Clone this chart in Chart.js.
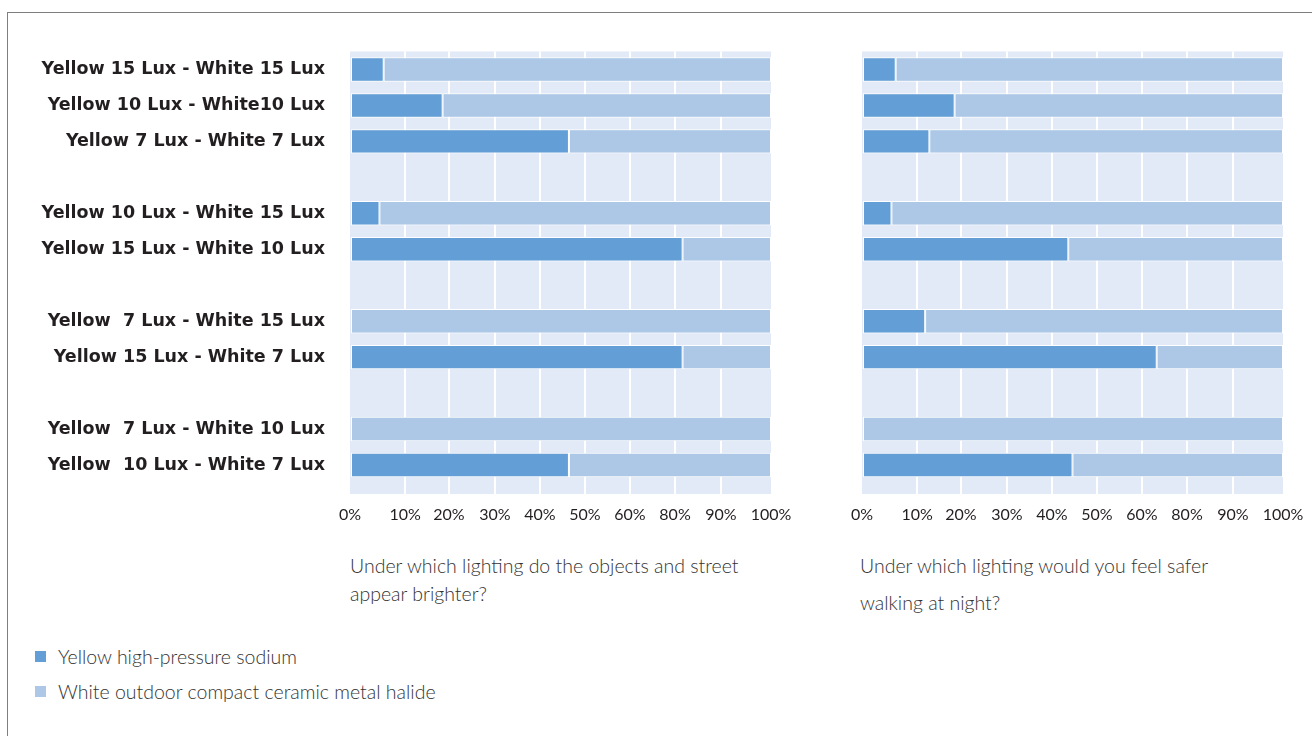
<!DOCTYPE html>
<html lang="en">
<head>
<meta charset="utf-8">
<title>Yellow vs white street lighting</title>
<script src="https://cdn.jsdelivr.net/npm/chart.js@4.4.1/dist/chart.umd.min.js"></script>
<style>
    html, body { margin: 0; padding: 0; background: #fff; }
    #page {
        position: relative;
        width: 1312px;
        height: 736px;
        overflow: hidden;
        font-family: Lato, 'Open Sans', sans-serif;
        color: #333333;
    }
    .frame {
        position: absolute;
        left: 7px;
        top: 12px;
        width: 1400px;
        height: 800px;
        border-left: 1px solid #7f7f7f;
        border-top: 1px solid #7f7f7f;
    }
    #brighterChart { position: absolute; left: 0; top: 0; }
    #saferChart { position: absolute; left: 812px; top: 0; }
    .question {
        position: absolute;
        font-size: 19.5px;
        font-weight: 300;
        white-space: nowrap;
    }
    #brighterQuestion { left: 350px; top: 552px; line-height: 28px; }
    #saferQuestion { left: 860px; top: 547px; line-height: 37px; }
    #legend {
        position: absolute;
        left: 35px;
        top: 639px;
        font-size: 19.5px;
        font-weight: 300;
    }
    .legend-item { display: flex; align-items: center; height: 35px; }
    .legend-box { width: 11px; height: 11px; margin-right: 12px; }
</style>
</head>
<body>
<div id="page">
    <div class="frame"></div>
    <canvas id="brighterChart" width="812" height="540"></canvas>
    <canvas id="saferChart" width="500" height="540"></canvas>
    <div class="question" id="brighterQuestion"></div>
    <div class="question" id="saferQuestion"></div>
    <div id="legend"></div>
</div>
<script>
// Survey pairs, empty labels are the spacer rows between groups
const categories = [
    'Yellow 15 Lux - White 15 Lux',
    'Yellow 10 Lux - White10 Lux',
    'Yellow 7 Lux - White 7 Lux',
    '',
    'Yellow 10 Lux - White 15 Lux',
    'Yellow 15 Lux - White 10 Lux',
    '',
    'Yellow  7 Lux - White 15 Lux',
    'Yellow 15 Lux - White 7 Lux',
    '',
    'Yellow  7 Lux - White 10 Lux',
    'Yellow  10 Lux - White 7 Lux'
];

const seriesNames = ['Yellow high-pressure sodium', 'White outdoor compact ceramic metal halide'];

// "appear brighter?" answers (%)
const brighterYellow = [8, 22, 52, null, 7, 79, null, 0, 79, null, 0, 52];
const brighterWhite = [92, 78, 48, null, 93, 21, null, 100, 21, null, 100, 48];

// "feel safer" answers (%)
const saferYellow = [8, 22, 16, null, 7, 49, null, 15, 70, null, 0, 50];
const saferWhite = [92, 78, 84, null, 93, 51, null, 85, 30, null, 100, 50];

// x axis ticks as printed in the original (no 70% label)
const gridTickValues = [0, 13.1, 23.5, 34.4, 45.1, 55.8, 66.5, 77.2, 88.1, 100];
const tickLabels = ['0%', '10%', '20%', '30%', '40%', '50%', '60%', '80%', '90%', '100%'];

const questions = [
    ['Under which lighting do the objects and street', 'appear brighter?'],
    ['Under which lighting would you feel safer', 'walking at night?']
];

const COLORS = {
    yellow: '#639fd6',
    white: '#adc8e6',
    plot: '#e1eaf6',
    text: '#231f20'
};

Chart.defaults.font.family = "Lato, 'Open Sans', sans-serif";

/**
 * Light blue plot background, drawn a bit below the chart area
 */
const plotBackground = {
    id: 'plotBackground',
    beforeDraw(chart, args, opts) {
        const { ctx, chartArea } = chart;
        ctx.save();
        ctx.fillStyle = opts.color;
        ctx.fillRect(chartArea.left, chartArea.top,
            chartArea.right - chartArea.left,
            chartArea.bottom - chartArea.top + opts.extend);
        ctx.restore();
    }
};

/**
 * Build one stacked horizontal bar chart
 */
function buildChart(canvasId, yellow, white, showLabels) {
    const lastTick = gridTickValues.length - 1;
    const canvas = document.getElementById(canvasId);
    return new Chart(canvas, {
        type: 'bar',
        data: {
            labels: categories,
            datasets: [
                { label: seriesNames[0], data: yellow, backgroundColor: COLORS.yellow },
                { label: seriesNames[1], data: white, backgroundColor: COLORS.white }
            ]
        },
        options: {
            indexAxis: 'y',
            responsive: false,
            animation: false,
            layout: {
                padding: { left: showLabels ? 0 : 50, right: showLabels ? 41 : 29, top: 51.5, bottom: 0 }
            },
            datasets: {
                bar: {
                    borderColor: '#ffffff',
                    borderWidth: 1,
                    borderSkipped: false,
                    categoryPercentage: 1,
                    barPercentage: 0.68
                }
            },
            plugins: {
                legend: { display: false },
                tooltip: { enabled: false },
                plotBackground: { color: COLORS.plot, extend: 11 }
            },
            scales: {
                x: {
                    stacked: true,
                    min: 0,
                    max: 100,
                    afterBuildTicks: (axis) => {
                        axis.ticks = gridTickValues.map(v => ({ value: v }));
                    },
                    afterFit: (axis) => {
                        // fixed axis height, the 100% label may hang over the padding
                        axis.height = 57;
                        axis.paddingLeft = 0;
                        axis.paddingRight = 0;
                    },
                    border: { display: false },
                    grid: {
                        color: (c) => (c.index === 0 || c.index === lastTick) ? 'rgba(0,0,0,0)' : '#ffffff',
                        lineWidth: 2,
                        drawTicks: true,
                        tickLength: 11
                    },
                    ticks: {
                        autoSkip: false,
                        maxRotation: 0,
                        padding: 11,
                        color: COLORS.text,
                        font: { size: 16 },
                        callback: (value, index) => tickLabels[index]
                    }
                },
                y: {
                    stacked: true,
                    display: showLabels,
                    afterFit: (axis) => { if (showLabels) axis.width = 350; },
                    border: { display: false },
                    grid: { display: false, drawTicks: false },
                    ticks: {
                        autoSkip: false,
                        padding: 25,
                        color: COLORS.text,
                        font: { family: "'DejaVu Sans', 'Open Sans', sans-serif", size: 17.5, weight: 'bold' }
                    }
                }
            }
        },
        plugins: [plotBackground]
    });
}

function renderQuestions() {
    document.getElementById('brighterQuestion').innerHTML = questions[0].join('<br>');
    document.getElementById('saferQuestion').innerHTML = questions[1].join('<br>');
}

function renderLegend() {
    const swatches = [COLORS.yellow, COLORS.white];
    document.getElementById('legend').innerHTML = seriesNames.map((name, i) =>
        `<div class="legend-item"><span class="legend-box" style="background:${swatches[i]}"></span>${name}</div>`
    ).join('');
}

buildChart('brighterChart', brighterYellow, brighterWhite, true);
buildChart('saferChart', saferYellow, saferWhite, false);
renderQuestions();
renderLegend();
</script>
</body>
</html>
